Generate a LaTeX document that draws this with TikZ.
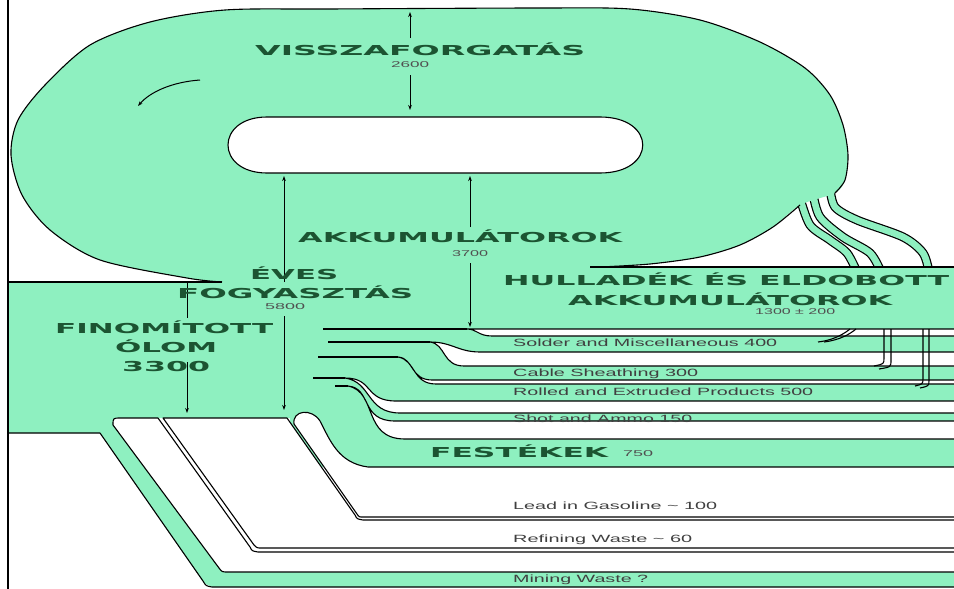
\documentclass[tikz,border=0pt]{standalone}
\usepackage{fontspec}
\usepackage{graphicx}
\usetikzlibrary{arrows.meta}
\setmainfont{DejaVu Sans}
\newfontfamily\arialf{Liberation Sans}
\definecolor{mint}{RGB}{142,240,192}
\definecolor{titlegreen}{RGB}{28,84,50}
\definecolor{numgray}{RGB}{80,80,80}
\newcommand\strw[2]{\resizebox{#1}{\height}{#2}}
\tikzset{
  big/.style={anchor=base west, inner sep=0pt, text=titlegreen, font=\fontsize{13.7}{15}\selectfont\bfseries},
  lab/.style={anchor=base west, inner sep=0pt, text=black!75, font=\arialf\fontsize{10.5}{12}\selectfont},
  num/.style={anchor=base west, inner sep=0pt, text=numgray, font=\arialf\fontsize{8.5}{9}\selectfont},
  outl/.style={draw=black, line width=1.1pt},
  arr/.style={line width=1pt, -{Stealth[length=5pt,width=3.6pt]}},
}
\begin{document}
\begin{tikzpicture}[x=1pt,y=-1pt, line join=round]
\useasboundingbox (0,0) rectangle (954,589);
\clip (0,0) rectangle (954,589);
\fill[white] (0,0) rectangle (954,589);

% strands from the loop down into the waste band
\foreach \p in {
  {(800,198) (810,225) (830,240) (847,253) (857,272)},
  {(813,194) (820,217) (843,237) (870,253) (881,272)},
  {(830,188) (835,207) (857,220) (903,237) (923,253) (929,272)}}{
  \draw[line width=9pt, black] plot[smooth] coordinates \p;
  \draw[line width=6.6pt, mint] plot[smooth] coordinates \p;
}

% green areas
\fill[mint] plot[smooth] coordinates {(222,282) (187,278) (100,260) (50,230) (22,195) (11,155) (18,120) (45,85) (90,45) (150,22) (225,10) (330,9) (540,8) (630,9) (700,20) (760,42) (805,68) (830,95) (843,125) (848,155) (845,180) (835,193) (800,205) (773,227) (740,245) (700,257) (650,264) (600,267)} -- cycle;
\fill[mint] (8,282) -- (222,282) -- (222,267) -- (960,267) -- (960,467) -- (290,467) -- (290,418) -- (100,418) -- (100,433) -- (8,433) -- cycle;
\fill[mint] (100,433) -- (100,418) -- (125,418) -- (225,570) -- (960,570) -- (960,587) -- (212,587) -- (204,583) -- cycle;

% hole of the loop
\filldraw[fill=white, outl] (267,117) -- (600,117) .. controls (657,117) and (657,173) .. (600,173) -- (267,173) .. controls (215,173) and (215,117) .. (267,117) -- cycle;

% loop outline
\draw[outl] plot[smooth] coordinates {(222,282) (187,278) (100,260) (50,230) (22,195) (11,155) (18,120) (45,85) (90,45) (150,22) (225,10) (330,9) (540,8) (630,9) (700,20) (760,42) (805,68) (830,95) (843,125) (848,155) (845,180) (835,193)};
\draw[outl] plot[smooth] coordinates {(800,205) (773,227) (740,245) (700,257) (650,264) (600,267)};
\draw[outl] (590,267) -- (960,267);
\draw[outl] (8,282) -- (222,282);

% white gaps between the right-hand bands
\filldraw[fill=white, outl] (467,329) .. controls (477,329) and (478,336) .. (492,336) -- (960,336) -- (960,329) -- cycle;
\draw[outl] (323,329) -- (467,329);
\filldraw[fill=white, outl] (430,342) .. controls (452,342) and (458,352) .. (480,352) -- (960,352) -- (960,366) -- (464,366) .. controls (442,366) and (446,344) .. (430,342) -- cycle;
\draw[outl] (328,342) -- (430,342);
\filldraw[fill=white, outl] (398,357) .. controls (414,358) and (410,380) .. (432,380) -- (960,380) -- (960,384) -- (436,384) .. controls (412,384) and (416,360) .. (398,357) -- cycle;
\draw[outl] (318,357) -- (398,357);
\filldraw[fill=white, outl] (345,378) .. controls (374,378) and (364,401) .. (396,401) -- (960,401) -- (960,413) -- (400,413) .. controls (366,413) and (372,382) .. (345,378) -- cycle;
\draw[outl] (313,378) -- (345,378);
\filldraw[fill=white, outl] (348,386) .. controls (372,388) and (360,421) .. (395,421) -- (960,421) -- (960,439) -- (405,439) .. controls (362,439) and (378,392) .. (348,386) -- cycle;
\draw[outl] (335,386) -- (348,386);

% lower white flows
\filldraw[fill=white, outl] (113,425) .. controls (113,418) .. (121,418) -- (158,418) -- (250,547) .. controls (252,551) .. (258,552) -- (960,552) -- (960,572) -- (228,572) .. controls (222,572) .. (219,568) -- cycle;
\filldraw[fill=white, outl] (163,418) -- (287,418) -- (355,515) .. controls (357,519) .. (363,520) -- (960,520) -- (960,548) -- (262,548) .. controls (257,548) .. (254,545) -- cycle;
\filldraw[fill=white, outl] (294,424) .. controls (292,410) and (312,408) .. (320,421) .. controls (330,440) and (338,463) .. (368,467) -- (960,467) -- (960,517) -- (363,517) .. controls (359,517) .. (357,514) -- cycle;
\draw[outl] (8,433) -- (100,433) -- (203,581) .. controls (206,586) .. (212,587) -- (960,587);

% strands below the waste band
\draw[outl] (818,342) .. controls (835,340) and (845,333) .. (850,329);
\draw[outl] (824,342) .. controls (840,340) and (850,334) .. (856,329);
\draw[outl] (884,329) -- (884,358) .. controls (884,364) .. (874,366);
\draw[outl] (891,329) -- (891,360) .. controls (891,367) .. (879,369);
\draw[outl] (923,329) -- (923,378) .. controls (923,384) .. (915,386);
\draw[outl] (929,329) -- (929,380) .. controls (929,386) .. (920,388);

% arrows
\coordinate (a1s) at (410,38); \coordinate (a1e) at (410,12);
\coordinate (a2s) at (410,75); \coordinate (a2e) at (410,110);
\coordinate (a3s) at (284,282); \coordinate (a3e) at (284,176);
\coordinate (a4s) at (284,316); \coordinate (a4e) at (284,410);
\coordinate (a5s) at (470,227); \coordinate (a5e) at (470,176);
\coordinate (a6s) at (470,263); \coordinate (a6e) at (470,327);
\coordinate (a7s) at (187,283); \coordinate (a7e) at (187,318);
\coordinate (a8s) at (187,362); \coordinate (a8e) at (187,413);
\coordinate (c1s) at (200,80); \coordinate (c1e) at (138,106);
\draw[arr] (a1s) -- (a1e);
\draw[arr] (a2s) -- (a2e);
\draw[arr] (a3s) -- (a3e);
\draw[arr] (a4s) -- (a4e);
\draw[arr] (a5s) -- (a5e);
\draw[arr] (a6s) -- (a6e);
\draw[line width=1pt] (a7s) -- (a7e);
\draw[arr] (a8s) -- (a8e);
\draw[arr] (c1s) .. controls (172,82) and (150,92) .. (c1e);

% texts
\node[big] (t1) at (255,56) {\strw{330pt}{VISSZAFORGATÁS}};
\node[num] (n1) at (391,67) {\strw{38pt}{2600}};
\node[big] (t2) at (298,242) {\strw{324pt}{AKKUMULÁTOROK}};
\node[num] (n2) at (452,256) {\strw{36pt}{3700}};
\node[big] (t3) at (250,279) {\strw{88pt}{ÉVES}};
\node[big] (t4) at (177,298) {\strw{236pt}{FOGYASZTÁS}};
\node[num] (n3) at (265,309) {\strw{40pt}{5800}};
\node[big] (t5) at (55,333) {\strw{218pt}{FINOMÍTOTT}};
\node[big] (t6) at (115,352) {\strw{102pt}{ÓLOM}};
\node[big] (t7) at (122,371) {\strw{88pt}{3300}};
\node[big] (t8) at (503,285) {\strw{446pt}{HULLADÉK ÉS ELDOBOTT}};
\node[big] (t9) at (568,305) {\strw{324pt}{AKKUMULÁTOROK}};
\node[num] (n4) at (755,314) {\strw{80pt}{1300 ± 200}};
\node[big] (t10) at (430,457) {\strw{178pt}{FESTÉKEK}};
\node[num] (n5) at (623,456) {\strw{30pt}{750}};
\node[lab] (l1) at (513,346) {\strw{264pt}{Solder and Miscellaneous 400}};
\node[lab] (l2) at (513,376) {\strw{185pt}{Cable Sheathing 300}};
\node[lab] (l3) at (513,395) {\strw{300pt}{Rolled and Extruded Products 500}};
\node[lab] (l4) at (513,422) {\strw{179pt}{Shot and Ammo 150}};
\node[lab] (l5) at (513,509) {\strw{204pt}{Lead in Gasoline \textasciitilde{} 100}};
\node[lab] (l6) at (513,542) {\strw{179pt}{Refining Waste \textasciitilde{} 60}};
\node[lab] (l7) at (513,582) {\strw{135pt}{Mining Waste ?}};

% left border
\draw[line width=1.6pt] (8,0) -- (8,589);
\end{tikzpicture}
\end{document}
